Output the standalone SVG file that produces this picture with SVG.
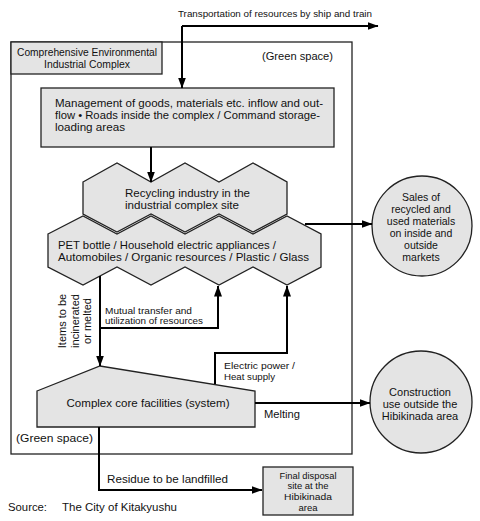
<svg xmlns="http://www.w3.org/2000/svg" width="480" height="521" viewBox="0 0 480 521">
<defs>
<marker id="arr" viewBox="0 0 11 8" refX="10.5" refY="4" markerWidth="11" markerHeight="8" markerUnits="userSpaceOnUse" orient="auto">
<path d="M0,0 L11,4 L0,8 z" fill="#000"/>
</marker>
<style>
text{font-family:"Liberation Sans",Arial,Helvetica,sans-serif;fill:#111}
.b{font-size:11px}
.m{font-size:10.5px}
.s{font-size:9.5px}
.shape{fill:#e4e4e4;stroke:#222;stroke-width:1.3}
.con{fill:none;stroke:#000;stroke-width:2;marker-end:url(#arr)}
.c{text-anchor:middle}
</style>
</defs>
<rect width="480" height="521" fill="#fff"/>

<g id="complex">
<rect x="11" y="42" width="341" height="412" fill="#fff" stroke="#222" stroke-width="1.3"/>
<text class="m" x="262" y="60" textLength="71" lengthAdjust="spacingAndGlyphs">(Green space)</text>
<text class="m" x="16" y="442" textLength="77" lengthAdjust="spacingAndGlyphs">(Green  space)</text>
</g>

<g id="title">
<rect class="shape" x="11" y="42" width="151" height="32"/>
<text class="c" style="font-size:10px" x="87" y="56" textLength="140" lengthAdjust="spacingAndGlyphs">Comprehensive Environmental</text>
<text class="c" style="font-size:10px" x="87" y="67.5" textLength="86" lengthAdjust="spacingAndGlyphs">Industrial Complex</text>
</g>

<g id="management">
<rect class="shape" x="41" y="88" width="293" height="59"/>
<text class="b" x="55" y="107" textLength="268" lengthAdjust="spacingAndGlyphs">Management of goods, materials etc. inflow and out-</text>
<text class="b" x="55" y="119" textLength="265" lengthAdjust="spacingAndGlyphs">flow • Roads inside the complex / Command  storage-</text>
<text class="b" x="55" y="131" textLength="70" lengthAdjust="spacingAndGlyphs">loading areas</text>
</g>

<g id="recycling">
<polygon class="shape" points="83,182 117,163 151,182 185,163 219,182 253,163 287,182 287,214 253,232 219,214 185,232 151,214 117,232 83,214"/>
<text class="b" x="125" y="197" textLength="125" lengthAdjust="spacingAndGlyphs">Recycling industry in the</text>
<text class="b" x="125" y="208.5" textLength="114" lengthAdjust="spacingAndGlyphs">industrial complex site</text>
</g>

<g id="items">
<polygon class="shape" points="48,234 83,216 117,234 151,216 185,234 219,216 253,234 287,216 321,234 321,267 287,285 253,267 219,285 185,267 151,285 117,267 83,285 48,267"/>
<text class="b" x="58" y="249" textLength="218" lengthAdjust="spacingAndGlyphs">PET bottle / Household electric appliances /</text>
<text class="b" x="58" y="260.5" textLength="251" lengthAdjust="spacingAndGlyphs">Automobiles / Organic resources / Plastic / Glass</text>
</g>

<g id="sales">
<circle class="shape" cx="422" cy="226" r="50"/>
<text class="m c" x="421" y="201">Sales of</text>
<text class="m c" x="421" y="213">recycled and</text>
<text class="m c" x="421" y="225">used materials</text>
<text class="m c" x="421" y="237">on inside and</text>
<text class="m c" x="421" y="249">outside</text>
<text class="m c" x="421" y="260.5">markets</text>
</g>

<g id="core">
<polygon class="shape" points="37,391 100,366 255,391 255,427 37,427"/>
<text class="b c" x="148" y="407" textLength="163" lengthAdjust="spacingAndGlyphs">Complex core facilities (system)</text>
</g>

<g id="construction">
<circle class="shape" cx="421" cy="402" r="51"/>
<text class="c" style="font-size:11px" x="420" y="396">Construction</text>
<text class="c" style="font-size:11px" x="420" y="408">use outside the</text>
<text class="c" style="font-size:11px" x="420" y="419.5">Hibikinada area</text>
</g>

<g id="disposal">
<rect class="shape" x="263" y="467" width="90" height="48"/>
<text class="s c" x="308" y="479" textLength="57" lengthAdjust="spacingAndGlyphs">Final disposal</text>
<text class="s c" x="308" y="489" textLength="41" lengthAdjust="spacingAndGlyphs">site at the</text>
<text class="s c" x="308" y="500" textLength="48" lengthAdjust="spacingAndGlyphs">Hibikinada</text>
<text class="s c" x="308" y="510.5">area</text>
</g>

<g id="connectors">
<path class="con" d="M182,26 H378"/>
<path class="con" d="M182,26 V88"/>
<path class="con" d="M151,147 V182"/>
<path class="con" d="M305,224 H372"/>
<path class="con" d="M100,276 V366"/>
<path class="con" d="M100,328 H218 V286"/>
<path class="con" d="M215,384 V353 H287 V286"/>
<path class="con" d="M255,403 H370"/>
<path class="con" d="M99,427 V490 H262"/>
</g>

<g id="labels">
<text class="s" x="178" y="17" textLength="194" lengthAdjust="spacingAndGlyphs">Transportation of resources by ship and train</text>
<text class="s" x="105" y="313.5" textLength="87" lengthAdjust="spacingAndGlyphs">Mutual transfer and</text>
<text class="s" x="105" y="324" textLength="98" lengthAdjust="spacingAndGlyphs">utilization of resources</text>
<text class="s" x="224" y="368.5" textLength="71" lengthAdjust="spacingAndGlyphs">Electric power /</text>
<text class="s" x="224" y="379.5" textLength="51" lengthAdjust="spacingAndGlyphs">Heat supply</text>
<text class="m" x="264" y="418" textLength="36" lengthAdjust="spacingAndGlyphs">Melting</text>
<text class="m" x="107" y="483" textLength="121" lengthAdjust="spacingAndGlyphs">Residue to be landfilled</text>
<g transform="translate(75,321) rotate(-90)">
<text class="c" style="font-size:11px" x="0" y="-9">Items to be</text>
<text class="c" style="font-size:11px" x="0" y="3.5">incinerated</text>
<text class="c" style="font-size:11px" x="0" y="16">or melted</text>
</g>
<text class="m" x="8" y="511" textLength="39" lengthAdjust="spacingAndGlyphs">Source:</text>
<text class="m" x="62" y="511" textLength="115" lengthAdjust="spacingAndGlyphs">The City of Kitakyushu</text>
</g>
</svg>
